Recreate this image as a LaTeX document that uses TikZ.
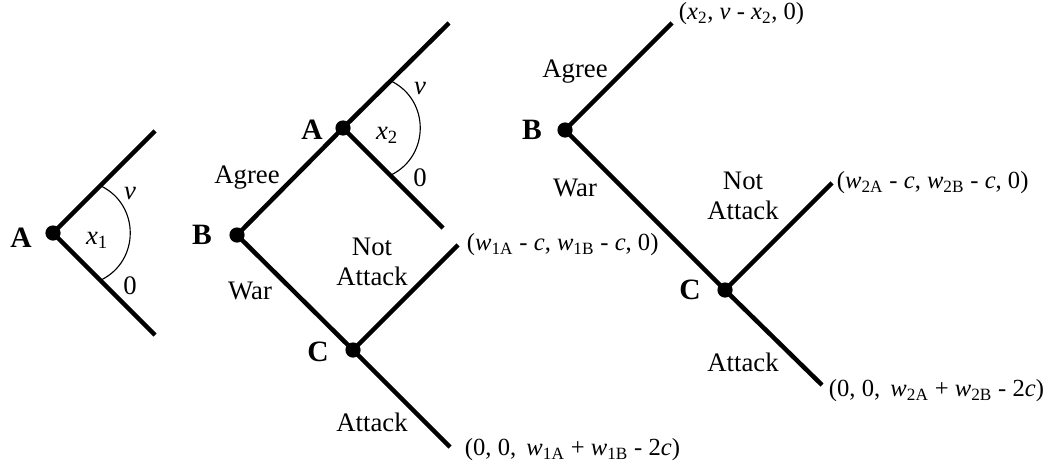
\documentclass[tikz,border=0pt]{standalone}
\usepackage{fontspec}
\setmainfont{Liberation Serif}
\newcommand{\payw}[1]{\textit{w}\textsubscript{#1}}
\newcommand{\shr}[1]{\textit{x}\textsubscript{#1}}

\begin{document}
\begin{tikzpicture}[x=0.025cm, y=-0.025cm,
  every node/.style={font=\fontsize{19}{21}\selectfont},
  dot/.style={circle, fill=black, inner sep=0pt, minimum size=0.38cm},
  player/.style={font=\fontsize{21}{24}\selectfont\bfseries},
  payoff/.style={anchor=west, font=\fontsize{17.5}{20}\selectfont},
  branch/.style={line width=3.2pt},
  share/.style={line width=0.8pt}]
 \useasboundingbox (0,0) rectangle (1058,467);
 % decision nodes
 \foreach \n/\x/\y in {A1/53/233, A2/343/128, B2/237/235, C2/353/350, B3/565/130, C3/725/290}
   \node[dot] (\n) at (\x,\y) {};
 \coordinate (A1u) at (155,131);
 \coordinate (A1d) at (155,335);
 \coordinate (A2u) at (449,23);
 \coordinate (A2d) at (443,228);
 \coordinate (C2u) at (458,245);
 \coordinate (C2d) at (450,447);
 \coordinate (B3u) at (672,23);
 \coordinate (C3u) at (832,183);
 \coordinate (C3d) at (822,385);
 % branches
 \draw[branch] (A1u) -- (A1.center) -- (A1d);
 \draw[branch] (A2u) -- (A2.center) -- (A2d);
 \draw[branch] (A2.center) -- (B2.center) -- (C2.center);
 \draw[branch] (C2u) -- (C2.center) -- (C2d);
 \draw[branch] (B3u) -- (B3.center) -- (C3.center);
 \draw[branch] (C3u) -- (C3.center) -- (C3d);
 % offers
 \foreach \n in {A1, A2}
   \draw[share] ([shift={(48,-47)}]\n.center) .. controls ([shift={(87,-28)}]\n.center) and ([shift={(87,28)}]\n.center) .. ([shift={(48,47)}]\n.center);
 \node[player] (lA1) at (21,238) {A};
 \node (x1) at (97,240) {\shr{1}};
 \node (v1) at (130,193) {\textit{v}};
 \node (z1) at (130,286) {0};
 \node[player] (lA2) at (312,130) {A};
 \node (x2) at (387,135) {\shr{2}};
 \node (v2) at (420,88) {\textit{v}};
 \node (z2) at (420,178) {0};
 \node[player] (lB2) at (202,235) {B};
 \node[player] (lC2) at (318,352) {C};
 \node[player] (lB3) at (532,130) {B};
 \node[player] (lC3) at (690,290) {C};
 % actions
 \node (ag2) at (247,178) {Agree};
 \node (war2) at (250,291) {War};
 \node[align=center] (na2) at (372,262) {Not\\Attack};
 \node (at2) at (372,422) {Attack};
 \node (ag3) at (575,72) {Agree};
 \node (war3) at (575,188) {War};
 \node[align=center] (na3) at (743,196) {Not\\Attack};
 \node (at3) at (743,362) {Attack};
 % payoffs
 \node[payoff] (p1) at (462,245) {(\payw{1A} - \textit{c}, \payw{1B} - \textit{c}, 0)};
 \node[payoff] (p2) at (460,450) {(0, 0,\ \,\payw{1A} + \payw{1B} - 2\textit{c})};
 \node[payoff] (p3) at (674,14) {(\shr{2}, \textit{v} - \shr{2}, 0)};
 \node[payoff] (p4) at (832,183) {(\payw{2A} - \textit{c}, \payw{2B} - \textit{c}, 0)};
 \node[payoff] (p5) at (824,391) {(0, 0,\ \,\payw{2A} + \payw{2B} - 2\textit{c})};
\end{tikzpicture}
\end{document}
